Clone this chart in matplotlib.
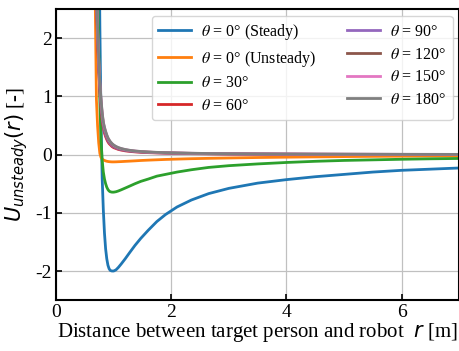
import matplotlib
matplotlib.use("Agg")
import matplotlib.pyplot as plt

plt.rcParams["axes.unicode_minus"] = False

# distance grid [m]
r = [0.66, 0.68, 0.70, 0.72, 0.74, 0.76, 0.78, 0.80, 0.82, 0.84,
     0.86, 0.88, 0.90, 0.92, 0.94, 0.97, 1.00, 1.04, 1.08, 1.13,
     1.20, 1.28, 1.37, 1.47, 1.60, 1.75, 1.90, 2.1, 2.35, 2.65,
     3.0, 3.5, 4.0, 4.5, 5.0, 5.5, 6.0, 6.5, 7.0]

u_steady = [9.0, 8.0, 7.0, 6.0, 4.5, 2.2, 0.6, -0.4, -0.95, -1.35,
            -1.62, -1.79, -1.9, -1.96, -1.99, -2.0, -2.0, -1.98, -1.94, -1.88,
            -1.79, -1.68, -1.56, -1.44, -1.3, -1.15, -1.03, -0.9, -0.78, -0.67,
            -0.58, -0.49, -0.43, -0.38, -0.34, -0.3, -0.27, -0.25, -0.23]
u_unsteady = [4.0, 2.6, 0.95, 0.5, 0.2, 0.02, -0.05, -0.075, -0.09, -0.1,
              -0.108, -0.114, -0.118, -0.121, -0.123, -0.125, -0.125, -0.124, -0.122, -0.12,
              -0.116, -0.112, -0.107, -0.101, -0.095, -0.089, -0.083, -0.077, -0.07, -0.064,
              -0.058, -0.05, -0.044, -0.039, -0.034, -0.03, -0.027, -0.024, -0.022]
u_30 = [8.0, 6.0, 4.5, 3.0, 1.8, 0.9, 0.25, -0.1, -0.3, -0.42,
        -0.5, -0.56, -0.6, -0.625, -0.638, -0.645, -0.645, -0.638, -0.625, -0.605,
        -0.575, -0.54, -0.5, -0.46, -0.42, -0.37, -0.34, -0.3, -0.26, -0.22,
        -0.19, -0.16, -0.135, -0.115, -0.1, -0.09, -0.08, -0.072, -0.066]
u_60 = [4.5, 3.4, 2.6, 1.95, 1.45, 1.08, 0.8, 0.6, 0.46, 0.37,
        0.31, 0.26, 0.22, 0.19, 0.17, 0.14, 0.12, 0.105, 0.09, 0.078,
        0.065, 0.055, 0.047, 0.04, 0.034, 0.029, 0.025, 0.021, 0.017, 0.014,
        0.011, 0.008, 0.006, 0.005, 0.004, 0.0035, 0.003, 0.0025, 0.002]
u_90 = [4.7, 3.55, 2.7, 2.05, 1.52, 1.14, 0.85, 0.64, 0.5, 0.405,
        0.34, 0.287, 0.245, 0.212, 0.19, 0.158, 0.135, 0.117, 0.1, 0.087,
        0.073, 0.061, 0.052, 0.045, 0.038, 0.032, 0.028, 0.024, 0.019, 0.016,
        0.013, 0.0095, 0.0075, 0.006, 0.005, 0.0045, 0.0038, 0.0032, 0.0028]
u_120 = [4.85, 3.68, 2.8, 2.12, 1.58, 1.2, 0.9, 0.68, 0.53, 0.44,
         0.37, 0.315, 0.27, 0.235, 0.207, 0.175, 0.15, 0.128, 0.111, 0.096,
         0.08, 0.067, 0.057, 0.049, 0.042, 0.035, 0.031, 0.026, 0.021, 0.017,
         0.014, 0.011, 0.0085, 0.007, 0.006, 0.005, 0.0042, 0.0037, 0.0033]
u_150 = [4.95, 3.76, 2.87, 2.17, 1.63, 1.23, 0.93, 0.71, 0.55, 0.46,
         0.39, 0.33, 0.283, 0.248, 0.218, 0.185, 0.16, 0.136, 0.118, 0.102,
         0.085, 0.072, 0.061, 0.052, 0.044, 0.037, 0.033, 0.028, 0.023, 0.018,
         0.015, 0.0115, 0.0095, 0.0075, 0.0065, 0.0055, 0.0047, 0.0042, 0.0037]
u_180 = [5.0, 3.8, 2.9, 2.2, 1.65, 1.25, 0.95, 0.72, 0.56, 0.47,
         0.4, 0.34, 0.29, 0.255, 0.225, 0.19, 0.165, 0.14, 0.122, 0.105,
         0.088, 0.074, 0.063, 0.054, 0.046, 0.039, 0.034, 0.029, 0.024, 0.019,
         0.016, 0.012, 0.01, 0.008, 0.007, 0.006, 0.005, 0.0045, 0.004]

series = [u_steady, u_unsteady, u_30, u_60, u_90, u_120, u_150, u_180]
labels = [r"$\theta$ = 0° (Steady)", r"$\theta$ = 0° (Unsteady)",
          r"$\theta$ = 30°", r"$\theta$ = 60°", r"$\theta$ = 90°",
          r"$\theta$ = 120°", r"$\theta$ = 150°", r"$\theta$ = 180°"]

serif = ["Liberation Serif", "DejaVu Serif"]

fig = plt.figure(figsize=(4.6, 3.51), dpi=100)
ax = fig.add_axes([0.122, 0.145, 0.876, 0.829])

for i, (vals, lab) in enumerate(zip(series, labels)):
    ax.plot(r, vals, color=f"C{i}", lw=2, label=lab)

ax.set_xlim(0, 7)
ax.set_ylim(-2.5, 2.5)
ax.set_xticks([0, 2, 4, 6])
ax.set_yticks([-2, -1, 0, 1, 2])
ax.grid(True, color="#c0c0c0", lw=0.9)
ax.tick_params(direction="in", length=4, width=1.2, labelsize=14, pad=3)
for lab in ax.get_xticklabels() + ax.get_yticklabels():
    lab.set_family(serif)
for sp in ax.spines.values():
    sp.set_linewidth(1.5)

ax.set_xlabel("Distance between target person and robot  $r$ [m]", fontsize=15,
              family=serif, math_fontfamily="dejavusans", labelpad=0)
ax.set_ylabel("$U_{unsteady}(r)$ [-]", fontsize=15, family=serif,
              math_fontfamily="dejavusans", labelpad=4)

leg = ax.legend(ncol=2, loc="upper right", prop={"family": serif, "size": 11.5},
                handlelength=2.1, columnspacing=1.9, labelspacing=0.42,
                handletextpad=0.6, borderaxespad=0.4)
for t in leg.get_texts():
    t.set_math_fontfamily("stix")

fig.savefig("out.png", dpi=100)
